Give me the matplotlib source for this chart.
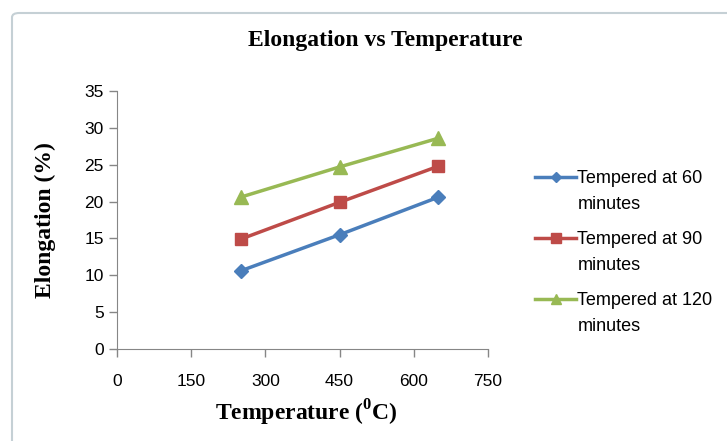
import matplotlib.pyplot as plt
from matplotlib.patches import FancyBboxPatch

temps = [250, 450, 650]
elong_60 = [10.6, 15.5, 20.6]
elong_90 = [14.9, 19.9, 24.8]
elong_120 = [20.6, 24.7, 28.6]
labels = ['Tempered at 60', 'Tempered at 90', 'Tempered at 120']
label_tail = 'minutes'

plt.rcParams['mathtext.fontset'] = 'custom'
plt.rcParams['mathtext.rm'] = 'Liberation Serif:bold'
plt.rcParams['mathtext.bf'] = 'Liberation Serif:bold'

fig = plt.figure(figsize=(7.27, 4.41), dpi=100)
# screenshot frame
fig.patches.append(FancyBboxPatch((12 / 727, -0.05), 1.1, 1 - 13 / 441 + 0.05,
                                  boxstyle='round,pad=0,rounding_size=0.01',
                                  transform=fig.transFigure, facecolor='none',
                                  edgecolor='#c5d0d5', linewidth=1.5, zorder=-1))
ax = fig.add_axes([0.161, 0.2086, 0.51, 0.585])
ax.set_facecolor('none')

ax.plot(temps, elong_60, color='#4a7ebb', marker='D', markersize=7, linewidth=2.5, label=labels[0])
ax.plot(temps, elong_90, color='#be4b48', marker='s', markersize=9, linewidth=2.5, label=labels[1])
ax.plot(temps, elong_120, color='#98b954', marker='^', markersize=10, linewidth=2.5, label=labels[2])

ax.set_xlim(0, 750)
ax.set_ylim(0, 35)
ax.set_xticks(range(0, 751, 150))
ax.set_yticks(range(0, 36, 5))
for s in ['top', 'right']:
    ax.spines[s].set_visible(False)
for s in ['left', 'bottom']:
    ax.spines[s].set_color('#868686')
ax.tick_params(colors='#868686', length=6, width=1, labelcolor='black', labelsize=12.5)
ax.tick_params(axis='x', pad=12)
for t in ax.get_xticklabels() + ax.get_yticklabels():
    t.set_fontfamily('Liberation Sans')

fig.text(0.53, 0.909, 'Elongation vs Temperature', ha='center', va='center',
         fontsize=17, fontweight='bold', family='Liberation Serif')
fig.text(0.421, 0.063, 'Temperature ($^0$C)', ha='center', va='center',
         fontsize=17, fontweight='bold', family='Liberation Serif')
fig.text(0.063, 0.5, 'Elongation (%)', ha='center', va='center', rotation=90,
         fontsize=17, fontweight='bold', family='Liberation Serif')

leg = ax.legend(loc='upper left', bbox_to_anchor=(1.127, 0.694), frameon=False,
                prop={'family': 'Liberation Sans', 'size': 13}, handlelength=2.3,
                handletextpad=0.05, labelspacing=2.45, markerscale=0.75,
                borderaxespad=0, borderpad=0)

# second line of each legend label
fig.canvas.draw()
inv = fig.transFigure.inverted()
for t in leg.get_texts():
    bb = t.get_window_extent()
    x0, y0 = inv.transform((bb.x0, bb.y0))
    fig.text(x0, y0 - 0.02, label_tail, ha='left', va='top',
             fontsize=13, family='Liberation Sans')

fig.savefig('out.png', dpi=100)
